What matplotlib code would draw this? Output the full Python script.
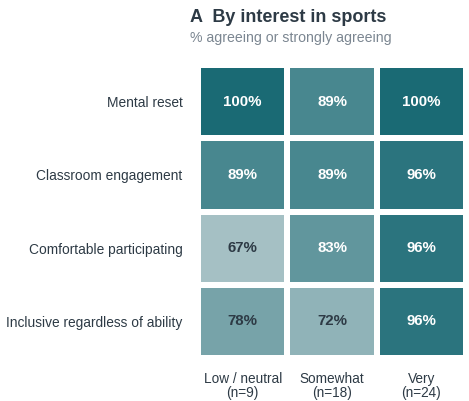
import numpy as np
import matplotlib.pyplot as plt
from matplotlib.colors import LinearSegmentedColormap, Normalize

# Dữ liệu
rows = ["Mental reset", "Classroom engagement", "Comfortable participating",
        "Inclusive regardless of ability"]
cols = ["Low / neutral\n(n=9)", "Somewhat\n(n=18)", "Very\n(n=24)"]
values = np.array([
    [100, 89, 100],
    [89, 89, 96],
    [67, 83, 96],
    [78, 72, 96],
])

plt.rcParams['font.family'] = ['Liberation Sans', 'DejaVu Sans']
dark = "#2d3a45"

cmap = LinearSegmentedColormap.from_list("teal", ["#a5c0c4", "#1a6a74"])
norm = Normalize(vmin=values.min(), vmax=values.max())

fig = plt.figure(figsize=(4.69, 4.01), dpi=100)
ax = fig.add_axes([198 / 469, 43 / 401, 268 / 469, 293 / 401])

ax.pcolormesh(values, cmap=cmap, norm=norm, edgecolors="white", linewidth=3)
ax.set_xlim(0, values.shape[1])
ax.set_ylim(values.shape[0], 0)

for i in range(values.shape[0]):
    for j in range(values.shape[1]):
        v = values[i, j]
        ax.text(j + 0.5, i + 0.5, f"{v}%", ha="center", va="center",
                fontsize=10.8, fontweight="bold",
                color="white" if v >= 80 else dark)

ax.set_xticks(np.arange(len(cols)) + 0.5)
ax.set_xticklabels(cols, fontsize=9.8, color=dark, linespacing=1.05)
ax.set_yticks(np.arange(len(rows)) + 0.5)
ax.set_yticklabels(rows, fontsize=9.95, color=dark)
ax.tick_params(axis="x", length=0, pad=10)
ax.tick_params(axis="y", length=0, pad=11)
for s in ax.spines.values():
    s.set_visible(False)

fig.text(190 / 469, 1 - 17 / 401, "A  By interest in sports", fontsize=13,
         fontweight="bold", color=dark, va="center")
fig.text(190 / 469, 1 - 38 / 401, "% agreeing or strongly agreeing",
         fontsize=10.2, color="#7b8691", va="center")

fig.savefig("out.png", dpi=100)
